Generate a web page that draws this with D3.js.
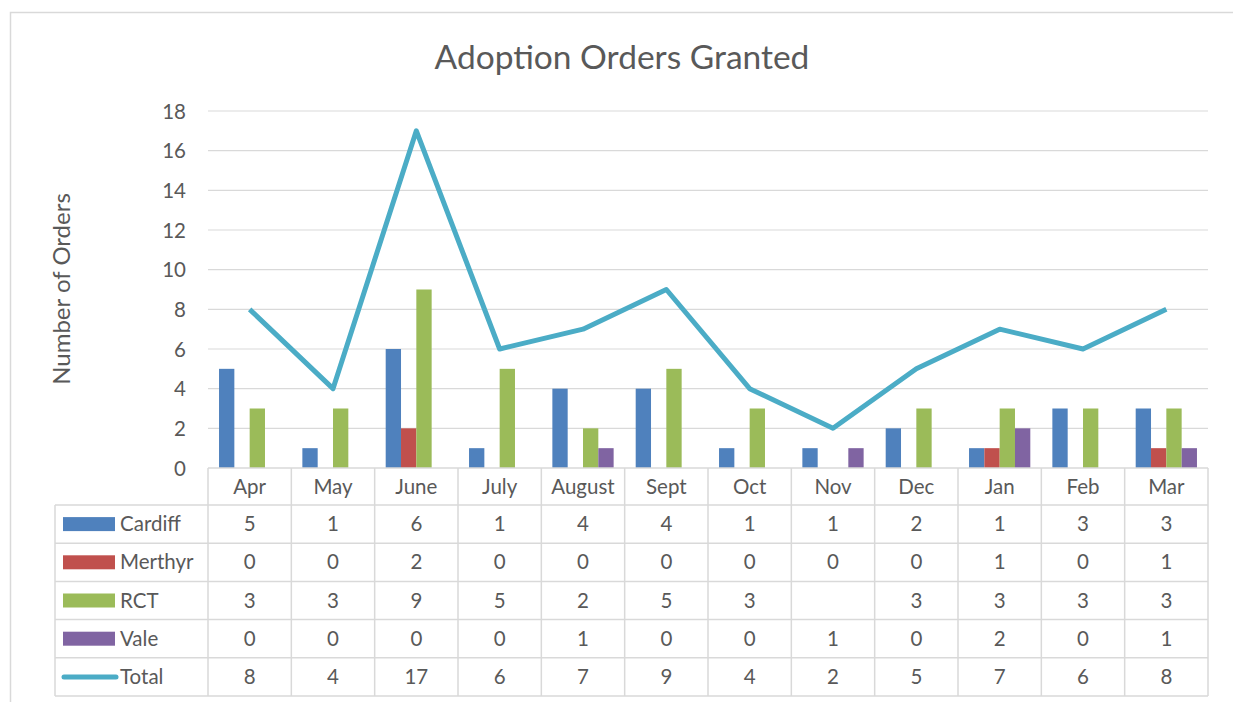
<!DOCTYPE html>
<html>
<head>
<meta charset="utf-8">
<script src="https://cdn.jsdelivr.net/npm/d3@7"></script>
<style>
  body { margin: 0; background: #fff; }
  text { font-family: Lato, "Open Sans", sans-serif; fill: #595959; }
</style>
</head>
<body>
<div id="chart"></div>
<script>
// Data
const months = ["Apr", "May", "June", "July", "August", "Sept", "Oct", "Nov", "Dec", "Jan", "Feb", "Mar"];
const cardiff = [5, 1, 6, 1, 4, 4, 1, 1, 2, 1, 3, 3];
const merthyr = [0, 0, 2, 0, 0, 0, 0, 0, 0, 1, 0, 1];
const rct = [3, 3, 9, 5, 2, 5, 3, null, 3, 3, 3, 3];
const vale = [0, 0, 0, 0, 1, 0, 0, 1, 0, 2, 0, 1];
const total = [8, 4, 17, 6, 7, 9, 4, 2, 5, 7, 6, 8];
const yTicks = [0, 2, 4, 6, 8, 10, 12, 14, 16, 18];

const barSeries = [
  { name: "Cardiff", values: cardiff, color: "#4F81BD" },
  { name: "Merthyr", values: merthyr, color: "#C0504D" },
  { name: "RCT", values: rct, color: "#9BBB59" },
  { name: "Vale", values: vale, color: "#8064A2" }
];
const lineColor = "#4BACC6";

const W = 1233, H = 702;
const plot = { left: 208, right: 1208, top: 111, bottom: 468 };
const labelLeft = 55;
const headerH = 37;
const rowH = 38.2;
const fontSize = "20.5px";

const svg = d3.select("#chart").append("svg")
    .attr("width", W)
    .attr("height", H);

// outer chart border
svg.append("rect")
    .attr("x", 10.5).attr("y", 12.5)
    .attr("width", W + 20).attr("height", H + 20)
    .attr("fill", "none")
    .attr("stroke", "#d9d9d9")
    .attr("stroke-width", 1.5);

// Scales
const x = d3.scaleBand()
    .domain(months)
    .range([plot.left, plot.right]);

const inner = d3.scaleBand()
    .domain(barSeries.map(d => d.name))
    .range([0, x.bandwidth()])
    .paddingOuter(0.72);

const y = d3.scaleLinear()
    .domain([0, 18])
    .range([plot.bottom, plot.top]);

// Gridlines
svg.append("g")
    .selectAll("line")
    .data(yTicks.filter(d => d > 0))
    .join("line")
    .attr("x1", plot.left).attr("x2", plot.right)
    .attr("y1", d => y(d)).attr("y2", d => y(d))
    .attr("stroke", "#d9d9d9")
    .attr("stroke-width", 1.2);

// Y axis
const yAxis = svg.append("g")
    .attr("transform", `translate(${plot.left},0)`)
    .call(d3.axisLeft(y).tickValues(yTicks).tickSize(0).tickPadding(22));
yAxis.select(".domain").remove();
yAxis.selectAll("text")
    .style("font-size", fontSize)
    .attr("fill", "#595959")
    .attr("dy", "0.35em");

// Bars
barSeries.forEach(s => {
    svg.append("g")
        .selectAll("rect")
        .data(s.values.map((v, i) => ({ month: months[i], v })).filter(d => d.v))
        .join("rect")
        .attr("x", d => x(d.month) + inner(s.name))
        .attr("width", inner.bandwidth())
        .attr("y", d => y(d.v))
        .attr("height", d => y(0) - y(d.v))
        .attr("fill", s.color);
});

// Total line
const line = d3.line()
    .x((d, i) => x(months[i]) + x.bandwidth() / 2)
    .y(d => y(d));

svg.append("path")
    .datum(total)
    .attr("d", line)
    .attr("fill", "none")
    .attr("stroke", lineColor)
    .attr("stroke-width", 5)
    .attr("stroke-linejoin", "round");

// Data table
const rows = [
    ...barSeries,
    { name: "Total", values: total, color: lineColor, isLine: true }
];
const tableTop = plot.bottom;
const rowsTop = tableTop + headerH;
const tableBottom = rowsTop + rows.length * rowH;
const grid = svg.append("g").attr("stroke", "#d9d9d9").attr("stroke-width", 1.5);

// horizontal lines
grid.append("line")
    .attr("x1", plot.left).attr("x2", plot.right)
    .attr("y1", tableTop).attr("y2", tableTop);
d3.range(rows.length + 1).forEach(i => {
    grid.append("line")
        .attr("x1", labelLeft).attr("x2", plot.right)
        .attr("y1", rowsTop + i * rowH).attr("y2", rowsTop + i * rowH);
});
// vertical lines
grid.append("line")
    .attr("x1", labelLeft).attr("x2", labelLeft)
    .attr("y1", rowsTop).attr("y2", tableBottom);
[...months.map(m => x(m)), plot.right].forEach(px => {
    grid.append("line")
        .attr("x1", px).attr("x2", px)
        .attr("y1", tableTop).attr("y2", tableBottom);
});

// header labels
svg.append("g")
    .selectAll("text")
    .data(months)
    .join("text")
    .attr("x", d => x(d) + x.bandwidth() / 2)
    .attr("y", tableTop + headerH / 2)
    .attr("dy", "0.35em")
    .attr("text-anchor", "middle")
    .style("font-size", fontSize)
    .text(d => d);

rows.forEach((r, ri) => {
    const cy = rowsTop + ri * rowH + rowH / 2;
    const g = svg.append("g");
    if (r.isLine) {
        g.append("line")
            .attr("x1", 64).attr("x2", 116)
            .attr("y1", cy).attr("y2", cy)
            .attr("stroke", r.color)
            .attr("stroke-width", 5)
            .attr("stroke-linecap", "round");
    } else {
        g.append("rect")
            .attr("x", 63).attr("y", cy - 7)
            .attr("width", 52).attr("height", 14)
            .attr("fill", r.color);
    }
    g.append("text")
        .attr("x", 120).attr("y", cy)
        .attr("dy", "0.35em")
        .style("font-size", fontSize)
        .text(r.name);
    g.selectAll("text.val")
        .data(r.values.map((v, i) => ({ month: months[i], v })))
        .join("text")
        .attr("class", "val")
        .attr("x", d => x(d.month) + x.bandwidth() / 2)
        .attr("y", cy)
        .attr("dy", "0.35em")
        .attr("text-anchor", "middle")
        .style("font-size", fontSize)
        .text(d => d.v == null ? "" : d.v);
});

// Title
svg.append("text")
    .attr("x", 622).attr("y", 57)
    .attr("dy", "0.35em")
    .attr("text-anchor", "middle")
    .style("font-size", "33.5px")
    .text("Adoption Orders Granted");

// Y axis title
svg.append("text")
    .attr("transform", "translate(62,289) rotate(-90)")
    .attr("dy", "0.35em")
    .attr("text-anchor", "middle")
    .style("font-size", "24px")
    .text("Number of Orders");
</script>
</body>
</html>
